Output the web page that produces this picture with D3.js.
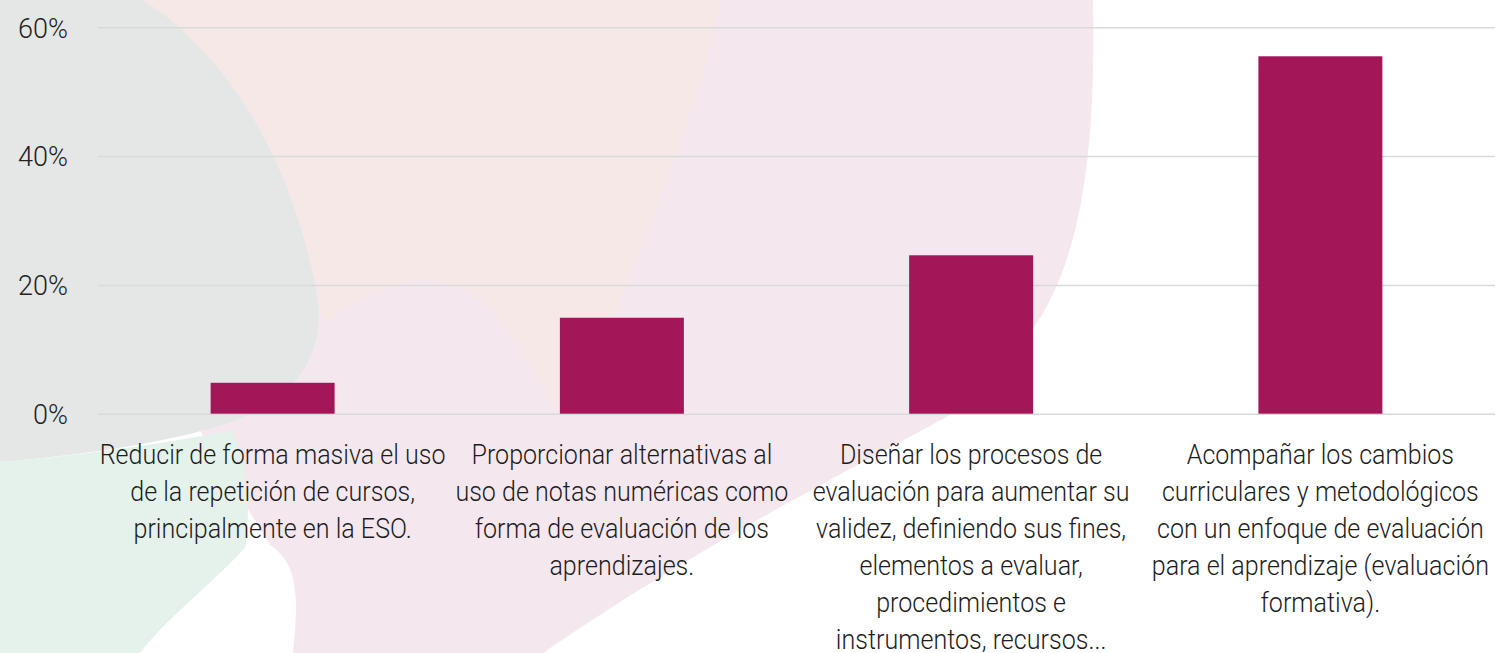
<!DOCTYPE html>
<html>
<head>
<meta charset="utf-8">
<script src="https://cdn.jsdelivr.net/npm/d3@7"></script>
<style>
  html, body { margin: 0; padding: 0; background: #fff; overflow: hidden; }
  svg { display: block; font-family: Roboto, "Liberation Sans", sans-serif; }
</style>
</head>
<body>
<div id="chart"></div>
<script>
const categories = ["c1", "c2", "c3", "c4"];
const values = [4.8, 14.9, 24.6, 55.5];
const labelLines = [
    ["Reducir de forma masiva el uso", "de la repetición de cursos,", "principalmente en la ESO."],
    ["Proporcionar alternativas al", "uso de notas numéricas como", "forma de evaluación de los", "aprendizajes."],
    ["Diseñar los procesos de", "evaluación para aumentar su", "validez, definiendo sus fines,", "elementos a evaluar,", "procedimientos e", "instrumentos, recursos..."],
    ["Acompañar los cambios", "curriculares y metodológicos", "con un enfoque de evaluación", "para el aprendizaje (evaluación", "formativa)."]
];
const yTicks = [0, 20, 40, 60];

const width = 1496, height = 653;
const margin = { top: 27, right: 1, bottom: 239, left: 98 };
const barColor = "#a31759";
const FIRST_LINE_WIDTH = 346;  // measured width of the first label line

const svg = d3.select("#chart").append("svg")
    .attr("width", width)
    .attr("height", height)
    .attr("viewBox", [0, 0, width, height]);

// decorative background shapes
const bg = svg.append("g");
bg.append("path") // big pink blob
    .attr("fill", "#f5e7ee")
    .attr("d", "M140,0 L1093,0 C1096,150 1082,260 1032,330 C1000,380 975,400 950,415 C850,470 700,545 543,653 L293,653 C298,600 300,565 270,545 L120,300 Z");
bg.append("path") // peach sector
    .attr("fill", "#f6e8e7")
    .attr("d", "M140,0 L720,0 C705,90 650,220 620,300 C600,360 575,400 560,418 C540,380 510,320 470,292 C430,268 380,280 330,320 L150,200 Z");
bg.append("path") // gray shape
    .attr("fill", "#e5e7e6")
    .attr("d", "M0,0 L143,0 C235,60 295,170 318,300 C324,360 292,400 232,422 C160,445 80,455 0,462 Z");
bg.append("path") // green shape
    .attr("fill", "#e4f2eb")
    .attr("d", "M0,462 C80,455 160,445 232,430 C250,470 250,520 245,548 C205,590 165,620 140,653 L0,653 Z");

const x = d3.scaleBand()
    .domain(categories)
    .range([margin.left, width - margin.right])
    .paddingInner(0.645)
    .paddingOuter(0.3225);

const y = d3.scaleLinear()
    .domain([0, 60])
    .range([height - margin.bottom - 0.3, margin.top + 0.3]);

// grid + y labels
svg.append("g")
    .attr("transform", `translate(${margin.left},0)`)
    .call(d3.axisLeft(y).tickValues(yTicks).tickSize(-(width - margin.left - margin.right)).tickFormat(d => d + "%").tickPadding(30))
    .call(g => g.select(".domain").remove())
    .call(g => g.selectAll(".tick line").attr("stroke", "#d9d9d9").attr("stroke-width", 1.5))
    .call(g => g.selectAll(".tick text")
        .attr("fill", "#222")
        .style("font-family", "Roboto, sans-serif")
        .style("font-weight", 300)
        .style("font-size", "27px")
        .attr("dy", "0.36em"));

// bars
svg.append("g")
    .attr("fill", barColor)
    .selectAll("rect")
    .data(values)
    .enter().append("rect")
        .attr("x", (d, i) => x(categories[i]))
        .attr("y", d => y(d))
        .attr("width", x.bandwidth())
        .attr("height", d => y(0) - y(d));

// category labels
const lab = svg.append("g")
    .attr("fill", "#1d1d1d")
    .attr("text-anchor", "middle")
    .style("font-weight", 300)
    .style("font-size", "28px");

const texts = [];
labelLines.forEach((lines, i) => {
    const cx = x(categories[i]) + x.bandwidth() / 2;
    const t = lab.append("text")
        .attr("x", cx)
        .attr("y", y(0) + 50);
    lines.forEach((ln, j) => {
        t.append("tspan")
            .attr("x", cx)
            .attr("dy", j === 0 ? 0 : 37)
            .text(ln);
    });
    texts.push({ t, cx });
});

// squeeze labels horizontally to mimic the narrow font of the original
const firstW = texts[0].t.select("tspan").node().getComputedTextLength();
const f = FIRST_LINE_WIDTH / firstW;
texts.forEach(({ t, cx }) => t.attr("transform", `translate(${cx},0) scale(${f},1) translate(${-cx},0)`));
</script>
</body>
</html>
